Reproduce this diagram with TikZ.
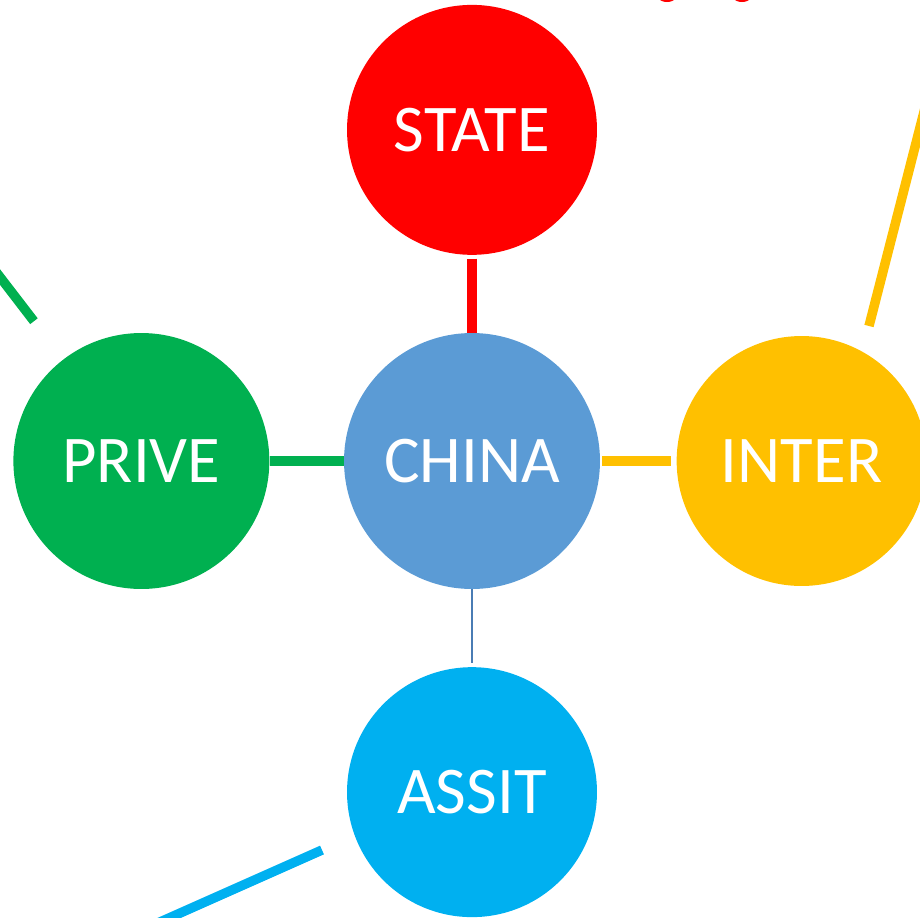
\documentclass[tikz,border=0pt]{standalone}
\usepackage{fontspec}
\setmainfont{Carlito}
\usetikzlibrary{positioning}
\definecolor{cred}{RGB}{255,0,0}
\definecolor{cgreen}{RGB}{0,176,80}
\definecolor{cyellow}{RGB}{255,192,0}
\definecolor{cblue}{RGB}{0,176,240}
\definecolor{cchina}{RGB}{91,155,213}
\definecolor{cthin}{RGB}{74,124,180}
\tikzset{
node distance=1.5cm,
bubble/.style={circle, inner sep=0pt, minimum size=5cm, text=white,
  font=\fontsize{38}{45}\selectfont},
link/.style={line width=0.19cm}
}

\begin{document}
\begin{tikzpicture}[x=0.02cm,y=0.02cm]
\clip (0,0) rectangle (920,-917);
\useasboundingbox (0,0) rectangle (920,-917);
%\draw[help lines] (0,0) grid (920,-917);
\node[bubble,fill=cchina,minimum size=5.12cm] (china) at (472,-461) {CHINA};
\node[bubble,fill=cred,above=1.55cm of china] (state) {STATE};
\node[bubble,fill=cgreen,minimum size=5.12cm,left=1.48cm of china] (prive) {PRIVE};
\node[bubble,fill=cyellow,right=1.52cm of china] (inter) {INTER};
\node[bubble,fill=cblue,below=1.55cm of china] (assit) {ASSIT};
% bits of something cut off at the top
\fill[cred] (667,12) circle (14);
\fill[cred] (742,12) circle (14);
% free ends
\coordinate (pvout) at (-20,-251);
\coordinate (intin) at (869,-326);
\coordinate (intout) at (925,-108);
\coordinate (asin) at (322,-850);
\coordinate (asout) at (142,-930);
\draw[link,cred,shorten <=2] (state) -- (china);
\draw[link,cgreen] (prive) -- (china);
\draw[link,cyellow,shorten <=1,shorten >=3] (china) -- (inter);
\draw[cthin,line width=0.055cm,shorten >=2] (china) -- (assit);
\draw[link,cgreen,shorten <=0.96cm] (prive) -- (pvout);
\draw[link,cyellow] (intin) -- (intout);
\draw[link,cblue] (asin) -- (asout);
\end{tikzpicture}
\end{document}
